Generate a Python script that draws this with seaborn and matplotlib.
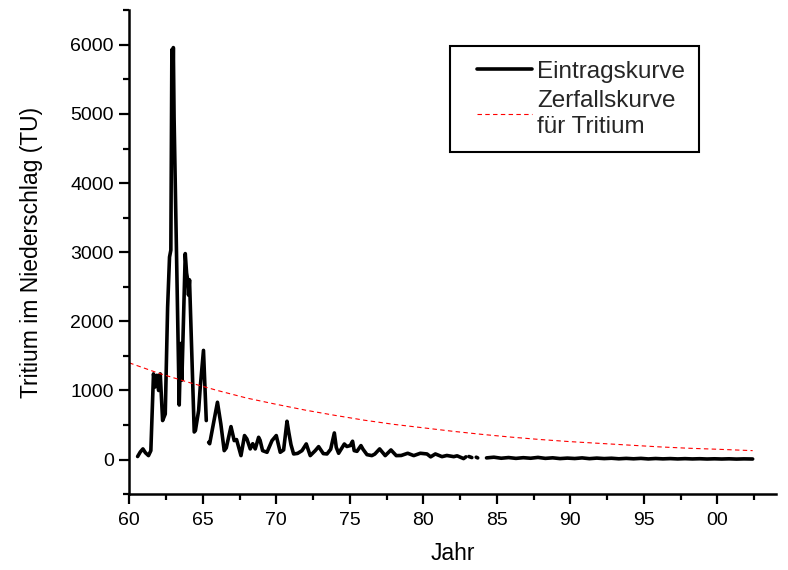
import matplotlib
matplotlib.use("Agg")
import matplotlib.pyplot as plt
import numpy as np
import pandas as pd
import seaborn as sns
from matplotlib.legend_handler import HandlerLine2D
from matplotlib.lines import Line2D
from matplotlib.ticker import MultipleLocator, FixedLocator

nan = np.nan

# Eintragskurve (year - 1900, TU); nan marks a gap in the record
entry_year = [
    60.57, 60.75, 60.93, 61.10, 61.31, 61.47, 61.65, 61.76, 61.88, 62.00,
    62.11, 62.27, 62.45, 62.61, 62.74, 62.83, 62.90, 62.95, 63.00, 63.05,
    63.40, 63.50, 63.58, 63.81, 63.90, 63.96, 64.03, 64.10, 64.42, 64.50,
    64.72, 64.83, 65.05, 65.24, nan, 65.40, 65.47, 65.62, 66.00, 66.23,
    66.46, 66.60, 66.92, 67.14, 67.30, 67.60, 67.84, 68.00, 68.23, 68.40,
    68.57, 68.80, 68.90, 69.07, 69.37, 69.71, 70.00, 70.27, 70.50, 70.73,
    70.85, 71.00, 71.18, 71.45, 71.75, 72.04, 72.31, 72.65, 72.88, 73.20,
    73.45, 73.70, 73.95, 74.08, 74.24, 74.63, 74.80, 75.03, 75.19, 75.30,
    75.49, 75.76, 75.90, 76.17, 76.50, 76.70, 77.03, 77.41, 77.80, 78.16,
    78.50, 78.94, 79.35, 79.80, 80.25, 80.50, 80.82, 81.27, 81.60, 82.07,
    82.30, 82.74, 82.90, nan, 83.10, 83.30, nan, 83.60, 83.70, nan,
    84.3, 84.8, 85.3, 85.8, 86.3, 86.8, 87.3, 87.8, 88.3, 88.8,
    89.3, 89.8, 90.3, 90.8, 91.3, 91.8, 92.3, 92.8, 93.3, 93.8,
    94.3, 94.8, 95.3, 95.8, 96.3, 96.8, 97.3, 97.8, 98.3, 98.8,
    99.3, 99.8, 100.3, 100.8, 101.3, 101.8, 102.4,
]
entry_tu = [
    45, 110, 155, 100, 58, 130, 1240, 1050, 1220, 1000,
    1240, 565, 660, 2200, 2930, 3030, 5930, 5100, 5960, 4950,
    790, 1680, 1150, 2980, 2700, 2620, 2380, 2600, 400, 420,
    710, 1050, 1580, 565, nan, 250, 230, 400, 830, 516,
    130, 170, 478, 275, 290, 58, 348, 300, 155, 230,
    155, 323, 280, 130, 106, 275, 348, 106, 140, 555,
    396, 217, 82, 90, 130, 227, 58, 130, 188, 87,
    82, 150, 386, 178, 92, 226, 190, 203, 266, 130,
    120, 203, 150, 72, 58, 80, 155, 58, 140, 58,
    60, 92, 58, 92, 82, 40, 82, 43, 60, 43,
    55, 15, 40, nan, 45, 30, nan, 35, 25, nan,
    25, 35, 20, 30, 18, 28, 20, 32, 18, 26,
    15, 22, 16, 25, 14, 22, 15, 20, 12, 18,
    12, 18, 10, 16, 11, 15, 10, 14, 10, 13,
    9, 12, 9, 12, 8, 11, 9,
]

# Zerfallskurve fuer Tritium
decay_year = [60, 62, 64, 66, 68, 70, 72, 74, 76, 78, 80,
              82, 84, 86, 88, 90, 92, 94, 96, 98, 100, 102.4]
decay_tu = [1400, 1250, 1120, 1000, 890, 800, 715, 640, 570, 510, 460,
            410, 365, 325, 290, 260, 235, 210, 185, 165, 150, 130]

x_ticks = [60, 65, 70, 75, 80, 85, 90, 95, 100]
x_labels = ["60", "65", "70", "75", "80", "85", "90", "95", "00"]

sns.set_theme(style="ticks")
plt.rcParams["font.family"] = ["Liberation Sans", "DejaVu Sans"]

entry = pd.DataFrame({"year": entry_year, "tu": entry_tu})
entry["seg"] = entry["tu"].isna().cumsum()
entry = entry.dropna()

fig = plt.figure(figsize=(7.88, 5.70), dpi=100)
ax = fig.add_axes([0.164, 0.133, 0.821, 0.849])

sns.lineplot(data=entry, x="year", y="tu", units="seg", estimator=None,
             sort=False, color="black", lw=2.6, ax=ax)
sns.lineplot(x=decay_year, y=decay_tu, color="red", lw=0.8,
             linestyle=(0, (4, 3)), ax=ax)

ax.set_xlim(60, 104)
ax.set_ylim(-500, 6500)
ax.xaxis.set_major_locator(FixedLocator(x_ticks))
ax.set_xticklabels(x_labels)
ax.xaxis.set_minor_locator(MultipleLocator(2.5))
ax.yaxis.set_major_locator(MultipleLocator(1000))
ax.yaxis.set_minor_locator(MultipleLocator(500))

sns.despine(ax=ax)
for side in ["left", "bottom"]:
    ax.spines[side].set_linewidth(1.8)
    ax.spines[side].set_color("black")
ax.tick_params(which="major", direction="out", length=7, width=1.6,
               color="black", labelsize=14, labelcolor="black", pad=4)
ax.tick_params(axis="x", which="major", pad=6)
ax.tick_params(which="minor", direction="out", length=4.5, width=1.6,
               color="black")

ax.set_xlabel("Jahr", fontsize=16.5, color="black", labelpad=9)
ax.set_ylabel("Tritium im Niederschlag (TU)", fontsize=16.5, color="black",
              labelpad=20)

handles = [
    Line2D([], [], color="black", lw=2.6),
    Line2D([], [], color="red", lw=0.8, linestyle=(0, (4, 3))),
]
leg = ax.legend(handles, ["Eintragskurve", "Zerfallskurve\nfür Tritium"],
                loc="upper left", bbox_to_anchor=(0.496, 0.926),
                borderaxespad=0, fontsize=17.5, frameon=True, fancybox=False,
                handlelength=2.75, handletextpad=0.22, borderpad=0.6,
                labelspacing=0.3,
                handler_map={Line2D: HandlerLine2D(xpad=0.5)})
leg.get_texts()[1].set_linespacing(1.22)
leg.get_frame().set_edgecolor("black")
leg.get_frame().set_linewidth(1.5)
leg.get_frame().set_alpha(1)

fig.savefig("out.png", dpi=100)
